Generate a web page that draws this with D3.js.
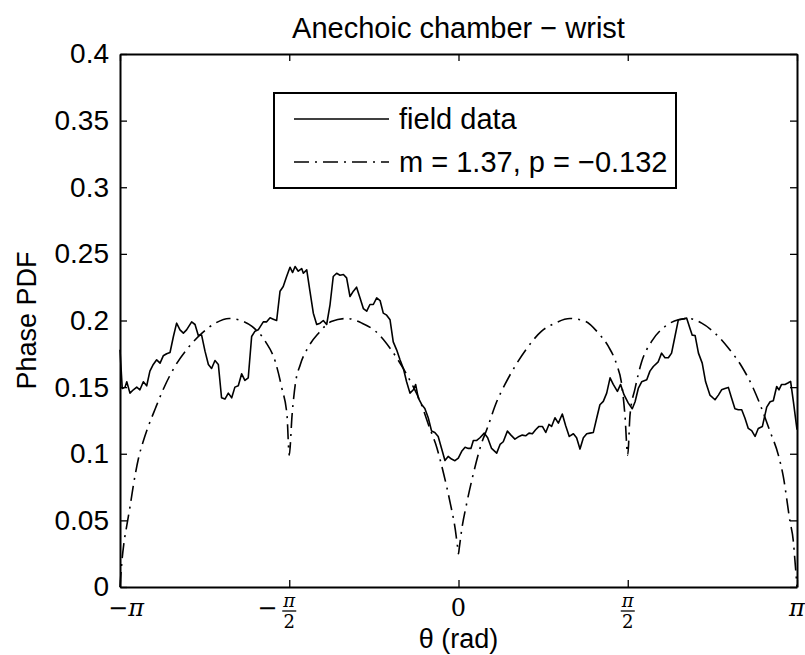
<!DOCTYPE html>
<html>
<head>
<meta charset="utf-8">
<script src="https://cdn.jsdelivr.net/npm/d3@7"></script>
<style>
  body { margin: 0; background: #fff; }
  svg { font-family: "Liberation Sans", Arial, sans-serif; }
  .axis .domain { stroke: #000; stroke-width: 2; }
  .axis .tick line { stroke: #000; stroke-width: 1.3; }
  .axis text { font-size: 28px; fill: #000; }
</style>
</head>
<body>
<svg width="805" height="655"></svg>
<script>
// field data, theta in degrees (axis shown in rad)
var fieldTheta = [-180, -178.8, -177.3, -176.4, -174.7, -172.9, -171.1, -169.4, -167.6, -165.8,
  -164.1, -162.3, -160.5, -158.7, -157, -155.2, -153.4, -151.6, -149.9, -148.1,
  -146.3, -144.6, -141.9, -140.1, -138.4, -136.6, -134.8, -133, -131.3, -129.5,
  -127.7, -126, -124.2, -122.4, -120.6, -118.9, -117.1, -115.3, -113.6, -111.8,
  -110, -108.2, -106.5, -103.8, -102, -100.2, -98.5, -96.7, -94.9, -93.2,
  -91.4, -89.6, -88.2, -86.9, -85.2, -83.4, -82.5, -80.7, -79, -77.2,
  -75.4, -73.6, -71.9, -70.1, -68.3, -66.6, -64.8, -63, -61.2, -59.5,
  -57.7, -55.9, -54.2, -52.4, -50.6, -48.8, -47.1, -45.3, -43.5, -41.7,
  -40, -38.2, -36.4, -34.7, -32.9, -31.1, -29.3, -27.6, -25.8, -24,
  -22.8, -21.4, -19.6, -17.9, -16.1, -14.3, -12.6, -10.8, -9, -7.2,
  -5.5, -3.7, -1.9, -0.1, 1.7, 3.5, 5.2, 6.6, 7.9, 9.7,
  11.4, 13.7, 15.5, 17.6, 20.3, 22.1, 23.8, 26, 27.9, 30,
  32.2, 33.9, 35.7, 37.5, 39.3, 41, 42.8, 44.6, 46.4, 48.1,
  49.5, 51.3, 53.1, 55.2, 57, 58.9, 61.1, 62.8, 64.6, 66.4,
  68.2, 69.9, 71.7, 73.5, 75.2, 77, 78.8, 80.6, 82.3, 84.5,
  86.2, 88, 90.3, 92.4, 93.9, 95.6, 97.4, 100.1, 101.8, 103.6,
  106.2, 108, 109.8, 111.6, 113.3, 115.1, 116.9, 118.7, 121.3, 123.1,
  124.3, 125.8, 127.6, 129.6, 131.4, 133.7, 136.4, 138.2, 139.9, 141.7,
  143.5, 145.2, 147, 148.8, 150.6, 152.3, 154.1, 155.9, 157.7, 159.4,
  161.6, 163.9, 165.7, 167.4, 169.2, 170.4, 171.8, 173.6, 175.4, 176.6,
  178.1, 180];
var fieldPdf = [0.178, 0.149, 0.150, 0.154, 0.1455, 0.148, 0.150, 0.148, 0.154, 0.151,
  0.162, 0.167, 0.1705, 0.168, 0.1735, 0.175, 0.176, 0.188, 0.198, 0.193,
  0.1905, 0.193, 0.199, 0.197, 0.189, 0.189, 0.177, 0.167, 0.164, 0.170,
  0.167, 0.142, 0.141, 0.1455, 0.142, 0.150, 0.151, 0.160, 0.155, 0.157,
  0.188, 0.192, 0.193, 0.199, 0.199, 0.202, 0.201, 0.200, 0.222, 0.2255,
  0.233, 0.240, 0.236, 0.2405, 0.237, 0.239, 0.2355, 0.238, 0.222, 0.2055,
  0.197, 0.198, 0.200, 0.197, 0.212, 0.233, 0.2355, 0.234, 0.2345, 0.232,
  0.218, 0.222, 0.225, 0.217, 0.209, 0.207, 0.212, 0.212, 0.217, 0.215,
  0.2055, 0.204, 0.2005, 0.184, 0.178, 0.1705, 0.164, 0.154, 0.1455, 0.148,
  0.152, 0.142, 0.137, 0.134, 0.127, 0.117, 0.116, 0.113, 0.104, 0.095,
  0.098, 0.096, 0.0948, 0.0968, 0.1018, 0.1048, 0.104, 0.104, 0.110, 0.110,
  0.112, 0.1155, 0.112, 0.104, 0.1005, 0.107, 0.109, 0.117, 0.114, 0.111,
  0.113, 0.114, 0.1135, 0.1155, 0.115, 0.118, 0.1205, 0.1205, 0.116, 0.122,
  0.1205, 0.127, 0.123, 0.1298, 0.121, 0.113, 0.115, 0.112, 0.1035, 0.112,
  0.115, 0.1155, 0.116, 0.1268, 0.1368, 0.1393, 0.1455, 0.157, 0.152, 0.1468,
  0.152, 0.1443, 0.138, 0.1338, 0.139, 0.149, 0.154, 0.1555, 0.162, 0.1655,
  0.169, 0.1755, 0.172, 0.172, 0.1755, 0.188, 0.2005, 0.201, 0.2018, 0.194,
  0.189, 0.1888, 0.1755, 0.168, 0.154, 0.144, 0.1405, 0.144, 0.148, 0.149,
  0.1498, 0.1418, 0.1338, 0.133, 0.133, 0.1268, 0.119, 0.1173, 0.113, 0.119,
  0.1205, 0.135, 0.139, 0.1398, 0.1505, 0.148, 0.152, 0.152, 0.1533, 0.1543,
  0.139, 0.118];

// fitted model, m = 1.37, p = -0.132
var modelTheta = [-180, -179.5, -178.8, -178, -176.4, -174.7, -172.7, -170.1, -167.5, -165.6,
  -161.2, -156.8, -150.6, -143.5, -136.4, -129.3, -122, -116.9, -109.8, -102.7,
  -97.4, -93.9, -91.2, -90, -88.5, -86.8, -84.1, -79.7, -74.4, -67.3,
  -59.3, -51.3, -44.2, -36.3, -30, -24.7, -20.3, -15, -12.3, -7.9,
  -4.4, -1.7, -0.3, 0, 0.3, 1.7, 4.4, 7.9, 12.3, 15,
  20.3, 24.7, 30, 36.3, 44.2, 51.3, 59.3, 67.3, 74.4, 79.7,
  84.1, 86.8, 88.5, 90, 91.2, 93.9, 97.4, 102.7, 109.8, 116.9,
  122.2, 129.3, 136.4, 143.5, 150.6, 156.8, 161.2, 165.6, 170.1, 172.7,
  176.3, 178, 178.9, 180];
var modelPdf = [0, 0.010, 0.022, 0.032, 0.046, 0.060, 0.078, 0.097, 0.110, 0.118,
  0.134, 0.149, 0.166, 0.180, 0.1905, 0.198, 0.2015, 0.2005, 0.1955, 0.1843,
  0.169, 0.149, 0.129, 0.099, 0.129, 0.152, 0.167, 0.1805, 0.1905, 0.1995,
  0.2015, 0.198, 0.192, 0.179, 0.1655, 0.152, 0.139, 0.118, 0.108, 0.085,
  0.063, 0.043, 0.028, 0.025, 0.028, 0.043, 0.063, 0.085, 0.108, 0.118,
  0.139, 0.152, 0.1655, 0.179, 0.192, 0.198, 0.2015, 0.1995, 0.1905, 0.1805,
  0.167, 0.152, 0.129, 0.099, 0.129, 0.149, 0.169, 0.1843, 0.1955, 0.2005,
  0.2015, 0.198, 0.1905, 0.1793, 0.1655, 0.149, 0.134, 0.117, 0.099, 0.083,
  0.049, 0.035, 0.020, 0];

var yTicks = [0, 0.05, 0.1, 0.15, 0.2, 0.25, 0.3, 0.35, 0.4];
var xTicks = [-180, -90, 0, 90, 180];
// tick label parts: sign, numerator, denominator (null = no fraction)
var xTickLabels = [["−", "π", null], ["−", "π", "2"], ["", "0", null], ["", "π", "2"], ["", "π", null]];
var legendLabels = ["field data", "m = 1.37, p = −0.132"];

var svg = d3.select("svg"),
    margin = {top: 54, right: 8, bottom: 68, left: 120},
    width = +svg.attr("width") - margin.left - margin.right,
    height = +svg.attr("height") - margin.top - margin.bottom,
    g = svg.append("g").attr("transform", "translate(" + margin.left + "," + margin.top + ")");

var x = d3.scaleLinear().domain([-180, 180]).range([0, width]);
var y = d3.scaleLinear().domain([0, 0.4]).range([height, 0]);

// axes, ticks pointing inward like matlab
g.append("g")
    .attr("class", "axis")
    .attr("transform", "translate(0," + height + ")")
    .call(d3.axisBottom(x).tickValues(xTicks).tickSizeInner(-7).tickSizeOuter(0).tickFormat(""));
g.append("g")
    .attr("class", "axis")
    .call(d3.axisTop(x).tickValues(xTicks).tickSizeInner(-7).tickSizeOuter(0).tickFormat(""));
g.append("g")
    .attr("class", "axis")
    .call(d3.axisLeft(y).tickValues(yTicks).tickSizeInner(-7).tickSizeOuter(0).tickPadding(11)
        .tickFormat(function(d) { return d3.format("")(+d.toFixed(2)); }));
g.append("g")
    .attr("class", "axis")
    .attr("transform", "translate(" + width + ",0)")
    .call(d3.axisRight(y).tickValues(yTicks).tickSizeInner(-7).tickSizeOuter(0).tickFormat(""));

// latex style x tick labels
var xl = g.append("g")
    .attr("font-family", "'DejaVu Serif', 'Liberation Serif', serif")
    .selectAll("g")
    .data(xTicks.map(function(t, i) { return {t: t, lab: xTickLabels[i]}; }))
    .enter().append("g")
    .attr("transform", function(d) { return "translate(" + x(d.t) + "," + (height + 29) + ")"; });

xl.each(function(d) {
    var el = d3.select(this);
    var sign = d.lab[0], num = d.lab[1], den = d.lab[2];
    if (den === null) {
        el.append("text")
            .attr("text-anchor", "middle")
            .attr("font-size", 24)
            .attr("font-style", num === "π" ? "italic" : null)
            .attr("dx", sign ? 6 : 0)
            .text(sign + num);
    } else {
        if (sign) {
            el.append("text").attr("x", -12).attr("y", 0).attr("text-anchor", "end")
                .attr("font-size", 24).text(sign);
        }
        el.append("text").attr("x", 0).attr("y", -9).attr("text-anchor", "middle")
            .attr("font-size", 18).attr("font-style", "italic").text(num);
        el.append("line").attr("x1", -7).attr("x2", 7).attr("y1", -5).attr("y2", -5)
            .attr("stroke", "#000").attr("stroke-width", 1.3);
        el.append("text").attr("x", 0).attr("y", 12).attr("text-anchor", "middle")
            .attr("font-size", 18).text(den);
    }
});

// curves
var line = d3.line()
    .x(function(d) { return x(d[0]); })
    .y(function(d) { return y(d[1]); });

g.append("path")
    .datum(fieldTheta.map(function(t, i) { return [t, fieldPdf[i]]; }))
    .attr("fill", "none")
    .attr("stroke", "#000")
    .attr("stroke-width", 1.6)
    .attr("stroke-linejoin", "round")
    .attr("d", line);

g.append("path")
    .datum(modelTheta.map(function(t, i) { return [t, modelPdf[i]]; }))
    .attr("fill", "none")
    .attr("stroke", "#000")
    .attr("stroke-width", 1.6)
    .attr("stroke-dasharray", "15,6,2,6")
    .attr("d", d3.line().curve(d3.curveMonotoneX)
        .x(function(d) { return x(d[0]); })
        .y(function(d) { return y(d[1]); }));

// legend
var lg = svg.append("g").attr("transform", "translate(274,93)");
lg.append("rect")
    .attr("width", 402).attr("height", 95)
    .attr("fill", "#fff").attr("stroke", "#000").attr("stroke-width", 2);
var rows = lg.selectAll("g.row")
    .data(legendLabels)
    .enter().append("g")
    .attr("class", "row")
    .attr("transform", function(d, i) { return "translate(0," + (26 + i * 43) + ")"; });
rows.append("line")
    .attr("x1", 20).attr("x2", 115)
    .attr("stroke", "#000").attr("stroke-width", 1.6)
    .attr("stroke-dasharray", function(d, i) { return i === 1 ? "15,6,2,6" : null; });
rows.append("text")
    .attr("x", 125).attr("dy", "0.35em")
    .attr("font-size", 29)
    .text(function(d) { return d; });

// titles
svg.append("text")
    .attr("x", margin.left + width / 2).attr("y", 38)
    .attr("text-anchor", "middle").attr("font-size", 29)
    .text("Anechoic chamber − wrist");
svg.append("text")
    .attr("x", margin.left + width / 2).attr("y", 648)
    .attr("text-anchor", "middle").attr("font-size", 27)
    .text("θ (rad)");
svg.append("text")
    .attr("transform", "translate(36," + (margin.top + height / 2) + ") rotate(-90)")
    .attr("text-anchor", "middle").attr("font-size", 27)
    .text("Phase PDF");
</script>
</body>
</html>
